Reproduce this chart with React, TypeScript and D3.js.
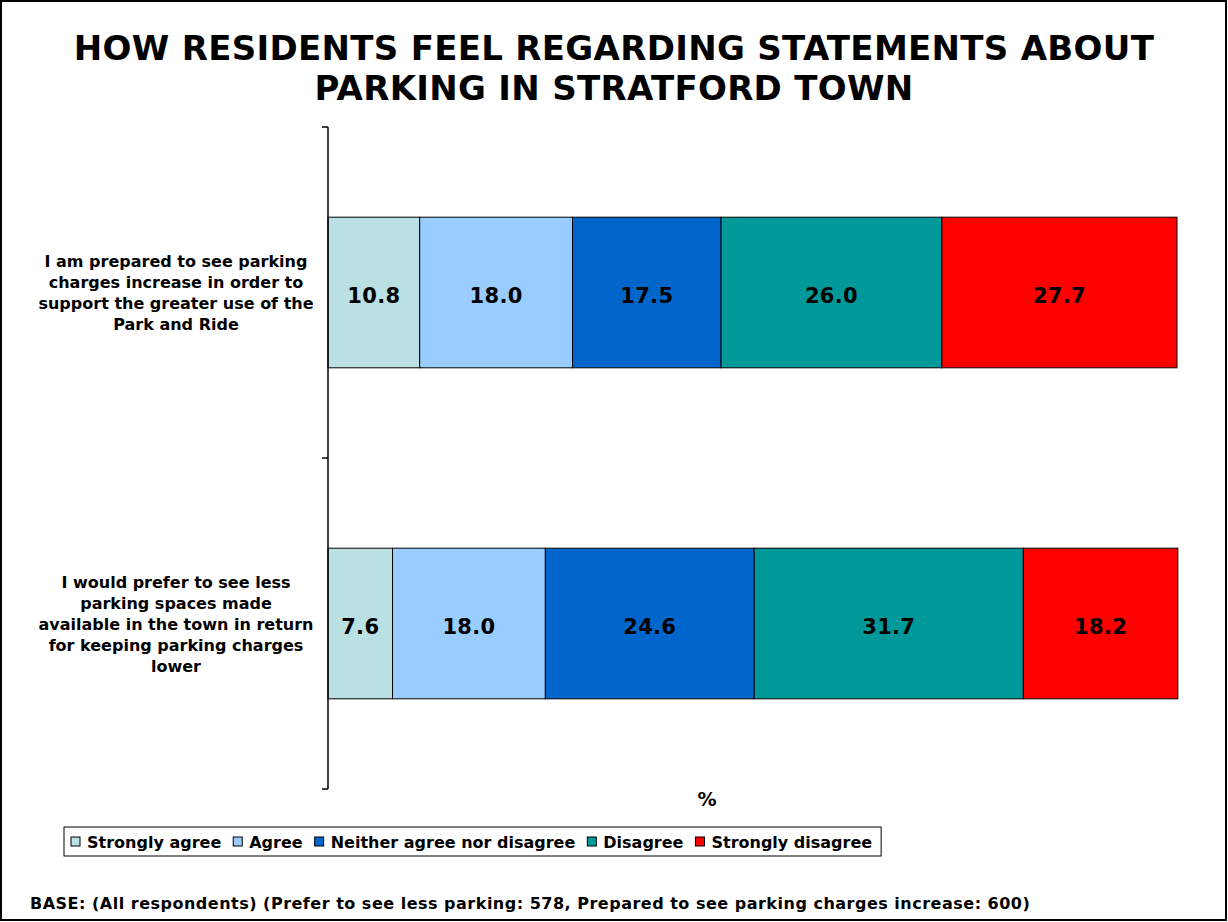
import React, { useEffect, useRef } from "react";
import * as d3 from "d3";

const titleLines = ["HOW RESIDENTS FEEL REGARDING STATEMENTS ABOUT", "PARKING IN STRATFORD TOWN"];
const categories = ["prepared", "prefer"];
const categoryLabels = [
  ["I am prepared to see parking", "charges increase in order to", "support the greater use of the", "Park and Ride"],
  ["I would prefer to see less", "parking spaces made", "available in the town in return", "for keeping parking charges", "lower"],
];
const seriesNames = ["Strongly agree", "Agree", "Neither agree nor disagree", "Disagree", "Strongly disagree"];
const seriesColors = ["#BBE0E3", "#99CCFF", "#0066CC", "#009999", "#FF0000"];
const stronglyAgree = [10.8, 7.6];
const agree = [18.0, 18.0];
const neither = [17.5, 24.6];
const disagree = [26.0, 31.7];
const stronglyDisagree = [27.7, 18.2];
const axisLabel = "%";
const baseNote = "BASE: (All respondents) (Prefer to see less parking: 578, Prepared to see parking charges increase: 600)";

const FONT = "Verdana, 'DejaVu Sans', sans-serif";

export default function App() {
  const ref = useRef<SVGSVGElement>(null);
  useEffect(() => {
    const svg = d3.select(ref.current);
    svg.selectAll("*").remove();
    const W = 1228, H = 922;

    svg.append("rect").attr("x", 1).attr("y", 1).attr("width", W - 3).attr("height", H - 3)
      .attr("fill", "white").attr("stroke", "#000").attr("stroke-width", 2);

    // title
    svg.append("g").selectAll("text").data(titleLines).join("text")
      .attr("x", 614).attr("y", (d, i) => 60 + i * 40)
      .attr("text-anchor", "middle").attr("font-family", FONT).attr("font-weight", "bold")
      .attr("font-size", 34).attr("letter-spacing", 0.3).attr("fill", "#000").text(d => d);

    const x0 = 328, x1 = 1177, yTop = 127, yBot = 789;
    const x = d3.scaleLinear().domain([0, 100]).range([x0, x1]);
    const y = d3.scaleBand().domain(categories).range([yTop, yBot]).paddingInner(0.545).paddingOuter(0.2725);

    const rows = categories.map((c, i) => ({
      cat: c,
      "Strongly agree": stronglyAgree[i],
      "Agree": agree[i],
      "Neither agree nor disagree": neither[i],
      "Disagree": disagree[i],
      "Strongly disagree": stronglyDisagree[i],
    }));
    const stack = d3.stack<any>().keys(seriesNames)(rows);
    const color = d3.scaleOrdinal<string, string>().domain(seriesNames).range(seriesColors);

    const g = svg.append("g");
    stack.forEach(layer => {
      const lg = g.append("g");
      lg.selectAll("rect").data(layer).join("rect")
        .attr("x", d => x(d[0])).attr("width", d => x(d[1]) - x(d[0]))
        .attr("y", d => y(d.data.cat)!).attr("height", y.bandwidth())
        .attr("fill", color(layer.key)).attr("stroke", "#000").attr("stroke-width", 1);
      lg.selectAll("text").data(layer).join("text")
        .attr("x", d => (x(d[0]) + x(d[1])) / 2)
        .attr("y", d => y(d.data.cat)! + y.bandwidth() / 2 + 10)
        .attr("text-anchor", "middle").attr("font-family", FONT).attr("font-weight", "bold")
        .attr("font-size", 21).attr("letter-spacing", 0.3).attr("fill", "#000")
        .text(d => (d[1] - d[0]).toFixed(1));
    });

    // axis
    const ax = svg.append("g");
    ax.append("line").attr("x1", x0).attr("x2", x0).attr("y1", yTop).attr("y2", yBot).attr("stroke", "#000").attr("stroke-width", 1.5);
    const step = y.step();
    [0, 1, 2].forEach(k => {
      const ty = yTop + k * step;
      ax.append("line").attr("x1", x0 - 6).attr("x2", x0).attr("y1", ty).attr("y2", ty).attr("stroke", "#000").attr("stroke-width", 1.5);
    });

    // category labels
    categories.forEach((c, i) => {
      const lines = categoryLabels[i];
      const cy = y(c)! + y.bandwidth() / 2;
      const lh = 21;
      const start = cy - ((lines.length - 1) * lh) / 2 + 6;
      svg.append("g").selectAll("text").data(lines).join("text")
        .attr("x", 176).attr("y", (d, j) => start + j * lh)
        .attr("text-anchor", "middle").attr("font-family", FONT).attr("font-weight", "bold")
        .attr("font-size", 16).attr("fill", "#000").text(d => d);
    });

    svg.append("text").attr("x", 707).attr("y", 806).attr("text-anchor", "middle")
      .attr("font-family", FONT).attr("font-weight", "bold").attr("font-size", 19).text(axisLabel);

    // legend
    const leg = svg.append("g");
    const box = leg.append("rect").attr("x", 64).attr("y", 827).attr("height", 29).attr("fill", "white").attr("stroke", "#000").attr("stroke-width", 1);
    let cx = 71;
    seriesNames.forEach((n, i) => {
      leg.append("rect").attr("x", cx).attr("y", 837).attr("width", 9).attr("height", 9)
        .attr("fill", seriesColors[i]).attr("stroke", "#000").attr("stroke-width", 1);
      const t = leg.append("text").attr("x", cx + 16).attr("y", 848)
        .attr("font-family", FONT).attr("font-weight", "bold").attr("font-size", 16).text(n);
      const w = (t.node() as SVGTextElement).getComputedTextLength();
      cx = cx + 16 + w + 12;
    });
    box.attr("width", cx - 64 - 3);

    svg.append("text").attr("x", 30).attr("y", 909).attr("font-family", FONT).attr("font-weight", "bold")
      .attr("font-size", 16).attr("letter-spacing", 0.5).text(baseNote);
  }, []);
  return (
    <svg ref={ref} width={1228} height={922} style={{ position: "absolute", left: 0, top: 0, background: "white" }} />
  );
}
